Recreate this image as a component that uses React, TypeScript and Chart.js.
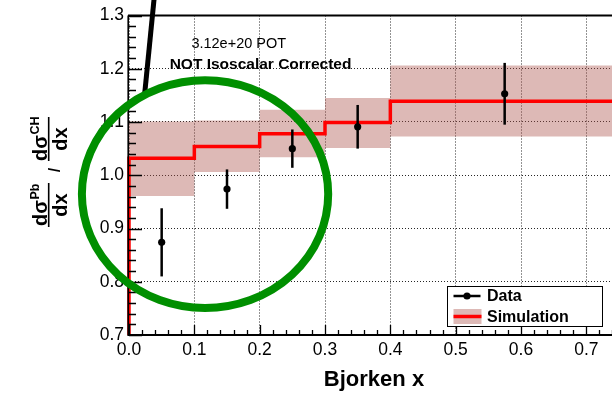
import React, { useEffect, useRef } from 'react';
import { Chart, registerables } from 'chart.js';

Chart.register(...registerables);

// ---- data ----
const binEdges = [0, 0.1, 0.2, 0.3, 0.4, 0.75];
const simValues = [1.032, 1.054, 1.078, 1.099, 1.139];
const simBandHigh = [1.101, 1.103, 1.123, 1.145, 1.206];
const simBandLow = [0.961, 1.006, 1.034, 1.051, 1.073];
const dataX = [0.05, 0.15, 0.25, 0.35, 0.575];
const dataY = [0.874, 0.974, 1.05, 1.091, 1.153];
const dataErr = [0.064, 0.037, 0.036, 0.041, 0.058];
const xMin = 0;
const xMax = 0.75;
const yMin = 0.7;
const yMax = 1.3;
const potLabel = '3.12e+20 POT';
const isoLabel = 'NOT Isoscalar Corrected';
const xTitle = 'Bjorken x';
const legendLabels = ['Data', 'Simulation'];

const FONT = '"Liberation Sans", Arial, Helvetica, sans-serif';
const BAND_COLOR = 'rgba(170,80,72,0.4)';

function stepPoints(vals: number[]) {
  return binEdges.map((e, i) => ({ x: e, y: vals[Math.min(i, vals.length - 1)] }));
}

export default function App() {
  const ref = useRef<HTMLCanvasElement | null>(null);

  useEffect(() => {
    const canvas = ref.current!;

    const overlay = {
      id: 'rootStyle',
      afterDatasetsDraw(chart: any) {
        const ctx: CanvasRenderingContext2D = chart.ctx;
        const xs = chart.scales.x;
        const ys = chart.scales.y;
        const a = chart.chartArea;
        ctx.save();
        // error bars
        ctx.strokeStyle = '#000';
        ctx.lineWidth = 2.5;
        for (let i = 0; i < dataX.length; i++) {
          const px = xs.getPixelForValue(dataX[i]);
          ctx.beginPath();
          ctx.moveTo(px, ys.getPixelForValue(dataY[i] + dataErr[i]));
          ctx.lineTo(px, ys.getPixelForValue(dataY[i] - dataErr[i]));
          ctx.stroke();
        }
        // frame
        ctx.lineWidth = 2;
        ctx.beginPath();
        ctx.moveTo(a.left - 1, a.top);
        ctx.lineTo(a.right + 30, a.top);
        ctx.moveTo(a.left - 1, a.bottom);
        ctx.lineTo(a.right + 30, a.bottom);
        ctx.stroke();
        ctx.lineWidth = 1.6;
        ctx.beginPath();
        ctx.moveTo(a.left - 0.8, a.top);
        ctx.lineTo(a.left - 0.8, a.bottom + 1);
        ctx.stroke();
        // ticks
        ctx.lineWidth = 1.3;
        ctx.beginPath();
        for (let k = 0; k <= 37; k++) {
          const v = k * 0.02;
          const px = Math.round(xs.getPixelForValue(v)) + 0.5;
          const len = k % 5 === 0 ? 10 : 5;
          ctx.moveTo(px, a.bottom);
          ctx.lineTo(px, a.bottom - len);
        }
        for (let k = 0; k <= 30; k++) {
          const v = yMin + k * 0.02;
          const py = Math.round(ys.getPixelForValue(v)) + 0.5;
          const len = k % 5 === 0 ? 13 : 7;
          ctx.moveTo(a.left, py);
          ctx.lineTo(a.left + len, py);
        }
        ctx.stroke();
        ctx.restore();
      },
      afterDraw(chart: any) {
        const ctx: CanvasRenderingContext2D = chart.ctx;
        const xs = chart.scales.x;
        const ys = chart.scales.y;
        const a = chart.chartArea;
        ctx.save();
        ctx.fillStyle = '#000';
        // texts
        ctx.textAlign = 'center';
        ctx.textBaseline = 'middle';
        ctx.font = `14.5px ${FONT}`;
        ctx.fillText(potLabel, xs.getPixelForValue(0.168), ys.getPixelForValue(1.2465));
        ctx.font = `bold 15.5px ${FONT}`;
        ctx.fillText(isoLabel, xs.getPixelForValue(0.2013), ys.getPixelForValue(1.2075));
        // x title
        ctx.font = `bold 22px ${FONT}`;
        ctx.textBaseline = 'alphabetic';
        ctx.fillText(xTitle, (a.left + a.right) / 2, 386);

        // y title (rotated fractions)
        ctx.save();
        ctx.translate(48.7, 227);
        ctx.rotate(-Math.PI / 2);
        ctx.textAlign = 'left';
        const main = `bold 20px ${FONT}`;
        const sup = `bold 12.5px ${FONT}`;
        const frac = (uc: number, n: string, s: string, d: string) => {
          ctx.font = main;
          const wm = ctx.measureText(n).width;
          ctx.font = sup;
          const ws = ctx.measureText(s).width;
          const u0 = uc - (wm + ws) / 2;
          ctx.font = main;
          ctx.fillText(n, u0, -2);
          ctx.font = sup;
          ctx.fillText(s, u0 + wm + 0.5, -9.5);
          ctx.fillRect(uc - 22, -0.8, 44, 1.6);
          ctx.font = main;
          const wd = ctx.measureText(d).width;
          ctx.fillText(d, uc - wd / 2, 18.5);
        };
        frac(22, 'd\u03c3', 'Pb', 'dx');
        ctx.font = `bold 16px ${FONT}`;
        ctx.textAlign = 'center';
        ctx.fillText('/', 57, 11);
        ctx.textAlign = 'left';
        frac(88, 'd\u03c3', 'CH', 'dx');
        ctx.restore();

        // black annotation line
        ctx.strokeStyle = '#000';
        ctx.lineWidth = 5;
        ctx.lineCap = 'butt';
        ctx.beginPath();
        ctx.moveTo(xs.getPixelForValue(0.0235), ys.getPixelForValue(1.147));
        ctx.lineTo(xs.getPixelForValue(0.0395), ys.getPixelForValue(1.345));
        ctx.stroke();

        // green ellipse
        ctx.strokeStyle = 'rgb(0,143,0)';
        ctx.lineWidth = 8;
        ctx.beginPath();
        const cx = xs.getPixelForValue(0.1164);
        const cy = ys.getPixelForValue(0.9646);
        const rx = xs.getPixelForValue(0.1164 + 0.1885) - cx;
        const ry = cy - ys.getPixelForValue(0.9646 + 0.214);
        ctx.ellipse(cx, cy, rx, ry, 0, 0, Math.PI * 2);
        ctx.stroke();

        // legend
        const lx = 447.5;
        const ly = 286.5;
        ctx.fillStyle = '#fff';
        ctx.fillRect(lx, ly, 155, 40);
        ctx.strokeStyle = '#000';
        ctx.lineWidth = 1;
        ctx.strokeRect(lx, ly, 155, 40);
        ctx.lineWidth = 2.5;
        ctx.beginPath();
        ctx.moveTo(lx + 6, ly + 9.5);
        ctx.lineTo(lx + 33, ly + 9.5);
        ctx.stroke();
        ctx.fillStyle = '#000';
        ctx.beginPath();
        ctx.arc(lx + 19.5, ly + 9.5, 3.6, 0, Math.PI * 2);
        ctx.fill();
        ctx.fillStyle = BAND_COLOR;
        ctx.fillRect(lx + 6, ly + 22.5, 28, 15);
        ctx.strokeStyle = '#ff0000';
        ctx.lineWidth = 3.5;
        ctx.beginPath();
        ctx.moveTo(lx + 6, ly + 30);
        ctx.lineTo(lx + 34, ly + 30);
        ctx.stroke();
        ctx.fillStyle = '#000';
        ctx.font = `bold 16px ${FONT}`;
        ctx.textAlign = 'left';
        ctx.textBaseline = 'middle';
        ctx.fillText(legendLabels[0], lx + 39.5, ly + 10.5);
        ctx.fillText(legendLabels[1], lx + 39.5, ly + 31);
        ctx.restore();
      },
    };

    const chart = new Chart(canvas, {
      type: 'scatter',
      data: {
        datasets: [
          {
            label: 'Data',
            data: dataX.map((x, i) => ({ x, y: dataY[i] })),
            pointRadius: 3.6,
            pointBackgroundColor: '#000',
            pointBorderWidth: 0,
            showLine: false,
            order: 0,
          } as any,
          {
            type: 'line',
            label: 'Simulation',
            data: [{ x: binEdges[0], y: yMin }, ...stepPoints(simValues)],
            borderColor: '#ff0000',
            borderWidth: 3.5,
            pointRadius: 0,
            stepped: 'before',
            fill: false,
            clip: 6,
            order: 1,
          } as any,
          {
            type: 'line',
            label: 'bandHigh',
            data: stepPoints(simBandHigh),
            borderWidth: 0,
            borderColor: 'rgba(0,0,0,0)',
            pointRadius: 0,
            stepped: 'before',
            fill: false,
            order: 2,
          } as any,
          {
            type: 'line',
            label: 'bandLow',
            data: stepPoints(simBandLow),
            borderWidth: 0,
            borderColor: 'rgba(0,0,0,0)',
            backgroundColor: BAND_COLOR,
            pointRadius: 0,
            stepped: 'before',
            fill: '-1',
            order: 3,
          } as any,
        ],
      },
      options: {
        responsive: false,
        animation: false,
        devicePixelRatio: 1,
        layout: { padding: { left: 0, top: 13, right: 21, bottom: 0 } },
        plugins: {
          legend: { display: false },
          tooltip: { enabled: false },
          title: { display: false },
        },
        scales: {
          x: {
            type: 'linear',
            min: xMin,
            max: xMax,
            afterFit: (s: any) => {
              s.height = 59;
            },
            ticks: {
              stepSize: 0.1,
              includeBounds: false,
              autoSkip: false,
              maxRotation: 0,
              padding: 5,
              color: '#000',
              font: { family: FONT, size: 17.5 },
              callback: (v: any) => Number(v).toFixed(1),
            },
            grid: {
              color: 'rgba(0,0,0,0.85)',
              lineWidth: 1,
              drawTicks: false,
            },
            border: { display: false, dash: [1, 2] },
          },
          y: {
            type: 'linear',
            min: yMin,
            max: yMax,
            afterFit: (s: any) => {
              s.width = 129;
            },
            ticks: {
              stepSize: 0.1,
              includeBounds: false,
              padding: 5,
              color: '#000',
              font: { family: FONT, size: 17.5 },
              callback: (v: any) => Number(v).toFixed(1),
            },
            grid: {
              color: 'rgba(0,0,0,0.85)',
              lineWidth: 1,
              drawTicks: false,
            },
            border: { display: false, dash: [1, 2] },
          },
        },
      },
      plugins: [overlay],
    });
    return () => chart.destroy();
  }, []);

  return (
    <div
      style={{
        position: 'fixed',
        left: 0,
        top: 0,
        width: 612,
        height: 394,
        overflow: 'hidden',
        background: '#fff',
      }}
    >
      <canvas ref={ref} width={640} height={394} style={{ display: 'block' }} />
    </div>
  );
}
